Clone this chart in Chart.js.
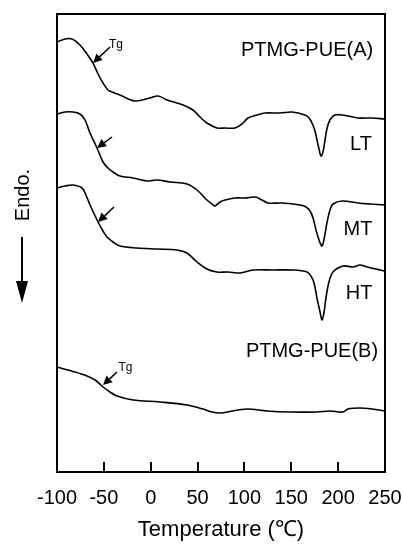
<!DOCTYPE html>
<html>
<head>
<meta charset="utf-8">
<script src="https://cdn.jsdelivr.net/npm/chart.js@4/dist/chart.umd.min.js"></script>
<style>
html, body { margin: 0; padding: 0; background: #fff; }
canvas { display: block; }
</style>
</head>
<body>
<canvas id="dscChart" width="403" height="546"></canvas>
<script>
const xTicks = [-100, -50, 0, 50, 100, 150, 200, 250];

// LT curve (temperature, heat flow in arbitrary offset units)
const ltTemp = [-100, -91.5, -84, -75.5, -68, -61.6, -56.2, -50.9, -45.6, -41.3, -32.8, -16.8, -0.8, 7.8, 17.4, 34.5, 45.1, 52.6, 60, 70.7, 79.3, 90, 97.4, 103.8, 113.4, 122, 138, 150.8, 164.6, 169, 172.1, 175.3, 177.4, 179.6, 181.7, 183.8, 186, 188, 191.2, 196.5, 204, 210.5, 221.2, 236, 250];
const ltHeat = [430, 433, 433, 427, 418, 409, 398, 389, 382, 380, 377, 371, 374, 376, 372, 367, 362, 355, 349, 344, 344, 344, 348, 354, 357, 359, 359, 360, 357, 354, 349, 341, 332, 323, 316, 320, 332, 343, 352, 357, 357, 356, 354, 354, 353];

// MT curve
const mtTemp = [-100, -91.5, -82.9, -75.5, -70.1, -64.8, -57.3, -50.9, -45.6, -40.2, -32.8, -18.9, -4, 6.7, 20.6, 38.7, 49.4, 60, 65.4, 68.6, 74, 79.3, 90, 100.6, 111.3, 118.8, 125.1, 140, 159.3, 165.7, 170, 173.2, 176.4, 179.6, 182.8, 186, 188, 191.3, 194.5, 204, 221.2, 234, 250];
const mtHeat = [358, 360, 360, 358, 352, 339, 324, 310, 304, 300, 296, 294, 291, 292, 290, 288, 282, 272, 268, 266, 270, 272, 274, 274, 275, 272, 269, 269, 267, 265, 261, 254, 242, 232, 226, 238, 249, 262, 268, 271, 269, 268, 267];

// HT curve
const htTemp = [-100, -91.5, -82.9, -73.3, -69.1, -64.8, -56.2, -50.9, -46.6, -40.2, -32.8, -14.6, 6.7, 28, 38.7, 49.4, 60, 70.7, 82.5, 95.3, 109.2, 130.5, 151.8, 166.8, 171, 174.3, 177.4, 180.7, 182.8, 185, 187, 190.2, 194.5, 205.2, 215.9, 223.3, 230.8, 244.7, 250];
const htHeat = [284, 286, 287, 284, 277, 267, 250, 241, 235, 230, 226, 224, 223, 222, 219, 210, 203, 200, 200, 199, 202, 202, 202, 200, 196, 189, 174, 160, 152, 160, 174, 190, 200, 206, 205, 207, 205, 202, 201];

// PTMG-PUE(B) curve
const bTemp = [-100, -80.8, -68, -59.4, -50.9, -43.4, -36, -18.9, 9.9, 38.7, 55.8, 65.4, 74, 81.4, 102.7, 124.1, 148.6, 177.4, 191.3, 205.2, 210.5, 223.3, 236, 250];
const bHeat = [105, 100, 96, 92, 85, 80, 76, 72, 70, 67, 63, 60, 59, 60, 63, 61, 60, 60, 61, 60, 63, 64, 63, 61];

const seriesNames = ['LT', 'MT', 'HT', 'PTMG-PUE(B)'];

// text notes in data coordinates
const notes = [
    { text: 'PTMG-PUE(A)', x: 166.8, y: 422, size: 20 },
    { text: 'LT', x: 224.4, y: 328, size: 20 },
    { text: 'MT', x: 221.2, y: 243, size: 20 },
    { text: 'HT', x: 222.3, y: 179, size: 20 },
    { text: 'PTMG-PUE(B)', x: 172.1, y: 121, size: 20 },
    { text: 'Tg', x: -37, y: 427, size: 12 },
    { text: 'Tg', x: -27, y: 104, size: 12 }
];

// Tg arrows: tail -> tip, data coordinates
const tgArrows = [
    { x1: -43.4, y1: 425, x2: -61.6, y2: 409 },
    { x1: -41.3, y1: 335, x2: -57.3, y2: 324 },
    { x1: -39.2, y1: 265, x2: -56.2, y2: 250 },
    { x1: -36, y1: 100, x2: -50.9, y2: 87 }
];

const FONT = '"Liberation Sans", Arial, sans-serif';

function toPoints(temps, heats) {
    return temps.map((t, i) => ({ x: t, y: heats[i] }));
}

function drawArrow(ctx, x1, y1, x2, y2, len, half) {
    const ang = Math.atan2(y2 - y1, x2 - x1);
    const bx = x2 - len * Math.cos(ang);
    const by = y2 - len * Math.sin(ang);
    ctx.beginPath();
    ctx.moveTo(x1, y1);
    ctx.lineTo(bx, by);
    ctx.stroke();
    ctx.beginPath();
    ctx.moveTo(x2, y2);
    ctx.lineTo(bx + half * Math.sin(ang), by - half * Math.cos(ang));
    ctx.lineTo(bx - half * Math.sin(ang), by + half * Math.cos(ang));
    ctx.closePath();
    ctx.fill();
}

const decorations = {
    id: 'decorations',
    afterDraw(chart) {
        const { ctx, chartArea: area, scales: { x, y } } = chart;
        ctx.save();
        ctx.strokeStyle = '#000';
        ctx.fillStyle = '#000';

        // frame
        ctx.lineWidth = 2;
        ctx.strokeRect(area.left, area.top, area.right - area.left, area.bottom - area.top);

        // inward tick marks
        xTicks.slice(1, -1).forEach(v => {
            const px = Math.round(x.getPixelForValue(v));
            ctx.beginPath();
            ctx.moveTo(px, area.bottom);
            ctx.lineTo(px, area.bottom - 10);
            ctx.stroke();
        });

        // Tg arrows
        ctx.lineWidth = 1.5;
        tgArrows.forEach(a => {
            drawArrow(ctx, x.getPixelForValue(a.x1), y.getPixelForValue(a.y1),
                x.getPixelForValue(a.x2), y.getPixelForValue(a.y2), 9, 4.5);
        });

        // labels
        ctx.textAlign = 'center';
        ctx.textBaseline = 'middle';
        notes.forEach(n => {
            ctx.font = n.size + 'px ' + FONT;
            ctx.fillText(n.text, x.getPixelForValue(n.x), y.getPixelForValue(n.y));
        });

        // Endo. axis label with downward arrow
        ctx.save();
        ctx.translate(23, 195);
        ctx.rotate(-Math.PI / 2);
        ctx.font = '20px ' + FONT;
        ctx.fillText('Endo.', 0, 0);
        ctx.restore();
        ctx.lineWidth = 2;
        drawArrow(ctx, 22, 237, 22, 303, 22, 6);

        ctx.restore();
    }
};

const datasets = [
    toPoints(ltTemp, ltHeat),
    toPoints(mtTemp, mtHeat),
    toPoints(htTemp, htHeat),
    toPoints(bTemp, bHeat)
].map((pts, i) => ({
    label: seriesNames[i],
    data: pts,
    borderColor: '#000',
    borderWidth: 1.6,
    pointRadius: 0,
    fill: false,
    tension: 0.35
}));

new Chart(document.getElementById('dscChart').getContext('2d'), {
    type: 'line',
    data: { datasets },
    options: {
        responsive: false,
        animation: false,
        devicePixelRatio: 1,
        layout: { padding: { left: 57, top: 14, right: 18, bottom: 0 } },
        plugins: { legend: { display: false }, tooltip: { enabled: false } },
        scales: {
            x: {
                type: 'linear',
                min: -100,
                max: 250,
                afterBuildTicks: s => { s.ticks = xTicks.map(v => ({ value: v })); },
                afterFit: s => {
                    s.height = 74;
                    s.paddingLeft = 0;
                    s.paddingRight = 0;
                },
                ticks: {
                    color: '#000',
                    font: { family: FONT, size: 20 },
                    padding: 14,
                    maxRotation: 0,
                    autoSkip: false
                },
                grid: { display: false, drawTicks: false },
                border: { display: false },
                title: {
                    display: true,
                    text: 'Temperature (℃)',
                    color: '#000',
                    font: { family: FONT, size: 22 },
                    padding: { top: 0, bottom: 3 }
                }
            },
            y: { display: false, min: 0, max: 458 }
        }
    },
    plugins: [decorations]
});
</script>
</body>
</html>
